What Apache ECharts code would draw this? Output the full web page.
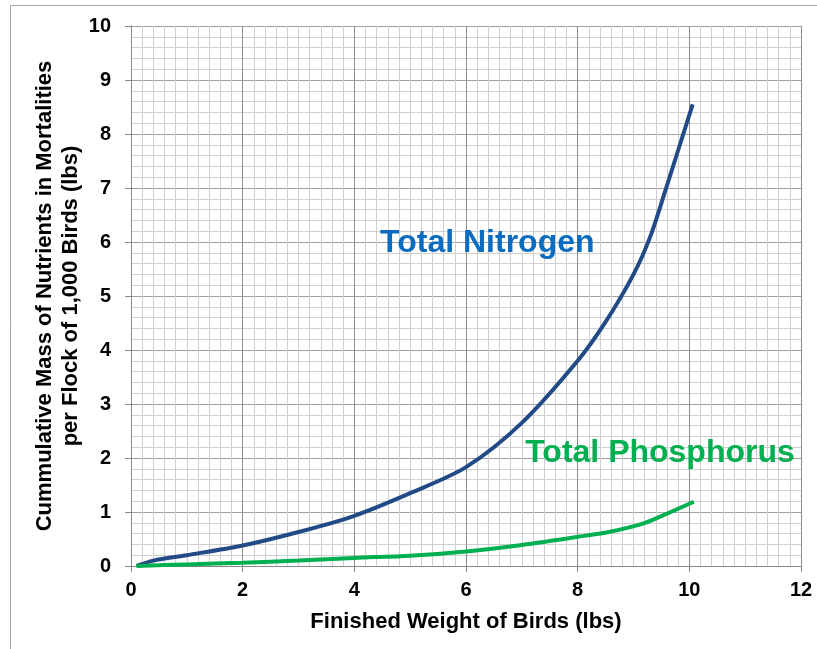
<!DOCTYPE html>
<html>
<head>
<meta charset="utf-8">
<script src="https://cdn.jsdelivr.net/npm/echarts@6/dist/echarts.min.js"></script>
<style>
html, body { margin: 0; padding: 0; background: #fff; }
#main { width: 817px; height: 649px; }
</style>
</head>
<body>
<div id="main"></div>
<script>
// finished weight (lbs) -> cumulative mass (lbs)
const nitrogenX = [0.1, 0.4, 1, 2, 3, 4, 5, 6, 7, 8, 8.5, 9, 9.3, 9.6, 10.06]
const nitrogenY = [0, 0.1, 0.2, 0.38, 0.63, 0.93, 1.35, 1.83, 2.65, 3.8, 4.52, 5.4, 6.1, 7.05, 8.55]
const phosphorusX = [0.1, 1, 2, 3, 4, 5, 6, 7, 8, 8.6, 9.18, 9.6, 10.08]
const phosphorusY = [0, 0.03, 0.06, 0.1, 0.15, 0.19, 0.27, 0.39, 0.54, 0.64, 0.79, 0.97, 1.19]

const seriesNames = ['Total Nitrogen', 'Total Phosphorus']
const lineColors = ['#214a87', '#00b050']
const labelColors = ['#0a6cc0', '#00b050']
const labelAt = [[4.46, 5.98], [7.06, 2.09]] // left / middle of each label

const FONT = '"Liberation Sans", Arial, sans-serif'

const pairs = (xs, ys) => xs.map((x, i) => [x, ys[i]])

const chart = echarts.init(document.getElementById('main'))

chart.setOption({
  animation: false,
  grid: { left: 131, top: 26, right: 16, bottom: 83 },
  xAxis: {
    type: 'value',
    min: 0, max: 12, interval: 2,
    name: 'Finished Weight of Birds (lbs)',
    nameLocation: 'middle',
    nameGap: 45,
    nameMoveOverlap: false,
    nameTextStyle: { fontFamily: FONT, fontWeight: 'bold', fontSize: 22, color: '#000' },
    axisLine: { lineStyle: { color: '#888', width: 1 } },
    axisTick: { show: true, length: 6, lineStyle: { color: '#888' } },
    axisLabel: { fontFamily: FONT, fontWeight: 'bold', fontSize: 20, color: '#000', margin: 14 },
    splitLine: { show: true, lineStyle: { color: '#8c8c8c', width: 1 } },
    minorTick: { show: false, splitNumber: 10 },
    minorSplitLine: { show: true, lineStyle: { color: '#cfcfcf', width: 1 } }
  },
  yAxis: {
    type: 'value',
    min: 0, max: 10, interval: 1,
    name: 'Cummulative Mass of Nutrients in Mortalities\nper Flock of 1,000 Birds (lbs)',
    nameLocation: 'middle',
    nameGap: 47,
    nameMoveOverlap: false,
    nameTextStyle: { fontFamily: FONT, fontWeight: 'bold', fontSize: 22, color: '#000', lineHeight: 26 },
    axisLine: { show: true, lineStyle: { color: '#888', width: 1 } },
    axisTick: { show: true, length: 6, lineStyle: { color: '#888' } },
    axisLabel: { fontFamily: FONT, fontWeight: 'bold', fontSize: 20, color: '#000', margin: 20 },
    splitLine: { show: true, lineStyle: { color: '#a0a0a0', width: 1 } },
    minorTick: { show: false, splitNumber: 5 },
    minorSplitLine: { show: true, lineStyle: { color: '#cfcfcf', width: 1 } }
  },
  series: [
    {
      name: seriesNames[0],
      type: 'line',
      smooth: 0.3,
      symbol: 'none',
      lineStyle: { color: lineColors[0], width: 4 },
      data: pairs(nitrogenX, nitrogenY)
    },
    {
      name: seriesNames[1],
      type: 'line',
      smooth: 0.3,
      symbol: 'none',
      lineStyle: { color: lineColors[1], width: 4 },
      data: pairs(phosphorusX, phosphorusY)
    }
  ]
})

// curve labels placed in data space, plus the outer frame
const labels = seriesNames.map((name, i) => {
  const p = chart.convertToPixel({ gridIndex: 0 }, labelAt[i])
  return {
    type: 'text',
    x: p[0], y: p[1],
    style: {
      text: name,
      fill: labelColors[i],
      font: 'bold 32px ' + FONT,
      textAlign: 'left',
      textVerticalAlign: 'middle'
    }
  }
})

chart.setOption({
  graphic: [
    {
      type: 'rect',
      shape: { x: 10.5, y: 5.5, width: 900, height: 700 },
      style: { fill: 'none', stroke: '#a6a6a6', lineWidth: 1 },
      silent: true
    }
  ].concat(labels)
})
</script>
</body>
</html>
